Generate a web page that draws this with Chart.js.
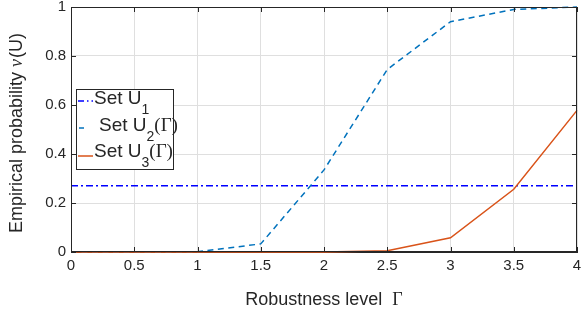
<!DOCTYPE html>
<html>
<head>
<meta charset="utf-8">
<script src="https://cdn.jsdelivr.net/npm/chart.js@4.4.1/dist/chart.umd.min.js"></script>
<style>
  html, body { margin: 0; padding: 0; background: #fff; }
  #wrap { width: 581px; height: 313px; }
</style>
</head>
<body>
<div id="wrap"><canvas id="chart"></canvas></div>
<script>
// robustness levels (x) and the three empirical probability curves
const gammas = [0, 0.5, 1, 1.5, 2, 2.5, 3, 3.5, 4];
const setU1 = [0.27, 0.27, 0.27, 0.27, 0.27, 0.27, 0.27, 0.27, 0.27];
const setU2 = [0, 0, 0.001, 0.033, 0.335, 0.745, 0.94, 0.99, 1.0];
const setU3 = [0, 0, 0, 0, 0, 0.005, 0.058, 0.256, 0.578];
const legendNames = ['1', '2', '3'];

const sans = '"Liberation Sans", Arial, Helvetica, sans-serif';
const serif = '"Liberation Serif", "Times New Roman", serif';
const ink = '#262626';
const colU1 = 'rgb(0,0,255)';
const colU2 = 'rgb(0,114,189)';
const colU3 = 'rgb(217,83,25)';

function pts(ys) {
  return gammas.map((g, i) => ({ x: g, y: ys[i] }));
}

// frame, inward ticks, legend and axis titles in MATLAB style
const matlabLook = {
  id: 'matlabLook',
  afterDraw(chart) {
    const ctx = chart.ctx;
    const a = chart.chartArea;
    const xs = chart.scales.x, ys = chart.scales.y;
    ctx.save();
    ctx.strokeStyle = ink;
    ctx.lineWidth = 1;
    ctx.strokeRect(a.left + 0.5, a.top + 0.5, a.right - a.left - 1, a.bottom - a.top - 1);
    ctx.beginPath();
    xs.ticks.forEach(t => {
      const px = Math.round(xs.getPixelForValue(t.value)) + 0.5;
      ctx.moveTo(px, a.top); ctx.lineTo(px, a.top + 5);
      ctx.moveTo(px, a.bottom); ctx.lineTo(px, a.bottom - 5);
    });
    ys.ticks.forEach(t => {
      const py = Math.round(ys.getPixelForValue(t.value)) + 0.5;
      ctx.moveTo(a.right, py); ctx.lineTo(a.right - 5, py);
      ctx.moveTo(a.left, py); ctx.lineTo(a.left + 5, py);
    });
    ctx.stroke();

    // legend box
    ctx.fillStyle = '#fff';
    ctx.fillRect(76, 89, 98, 80);
    ctx.strokeStyle = ink;
    ctx.strokeRect(76.5, 89.5, 97, 80);

    ctx.lineWidth = 1.5;
    ctx.strokeStyle = colU1;
    ctx.setLineDash([6, 3, 1.5, 3]);
    ctx.beginPath(); ctx.moveTo(78, 101); ctx.lineTo(93, 101); ctx.stroke();
    ctx.strokeStyle = colU2;
    ctx.setLineDash([6, 4]);
    ctx.beginPath(); ctx.moveTo(79, 128); ctx.lineTo(84, 128); ctx.stroke();
    ctx.strokeStyle = colU3;
    ctx.setLineDash([]);
    ctx.beginPath(); ctx.moveTo(78, 156); ctx.lineTo(93, 156); ctx.stroke();

    ctx.fillStyle = ink;
    ctx.textBaseline = 'alphabetic';
    ctx.textAlign = 'left';
    const rows = [
      { x: 94, base: 104, gamma: false },
      { x: 99, base: 131, gamma: true },
      { x: 94, base: 157, gamma: true }
    ];
    rows.forEach((r, i) => {
      ctx.font = '19px ' + sans;
      ctx.fillText('Set U', r.x, r.base);
      let cx = r.x + ctx.measureText('Set U').width;
      ctx.font = '14px ' + sans;
      ctx.fillText(legendNames[i], cx, r.base + 10);
      cx += ctx.measureText(legendNames[i]).width;
      if (r.gamma) {
        ctx.font = '19px ' + serif;
        ctx.fillText('(\u0393)', cx, r.base);
      }
    });

    // x title
    ctx.font = '18px ' + sans;
    const xt = 'Robustness level  ';
    const xw = ctx.measureText(xt).width;
    ctx.font = '18px ' + serif;
    const gw = ctx.measureText('\u0393').width;
    let sx = (a.left + a.right) / 2 - (xw + gw) / 2;
    ctx.font = '18px ' + sans;
    ctx.fillText(xt, sx, 305);
    ctx.font = '18px ' + serif;
    ctx.fillText('\u0393', sx + xw, 305);

    // y title, rotated
    ctx.translate(22, (a.top + a.bottom) / 2 + 4);
    ctx.rotate(-Math.PI / 2);
    ctx.font = '18px ' + sans;
    const p1 = 'Empirical probability ', p3 = '(U)';
    const w1 = ctx.measureText(p1).width, w3 = ctx.measureText(p3).width;
    ctx.font = 'italic 18px ' + serif;
    const w2 = ctx.measureText('\u03BD').width;
    let ty = -(w1 + w2 + w3) / 2;
    ctx.font = '18px ' + sans;
    ctx.fillText(p1, ty, 0);
    ctx.font = 'italic 18px ' + serif;
    ctx.fillText('\u03BD', ty + w1, 0);
    ctx.font = '18px ' + sans;
    ctx.fillText(p3, ty + w1 + w2 + 1, 0);
    ctx.restore();
  }
};

const plainTick = v => String(Math.round(v * 10) / 10);

new Chart(document.getElementById('chart'), {
  type: 'line',
  data: {
    datasets: [
      {
        label: 'Set U1',
        data: pts(setU1),
        borderColor: colU1,
        borderWidth: 1.5,
        borderDash: [7, 3, 2, 3],
        pointRadius: 0,
        clip: 4,
        order: 3
      },
      {
        label: 'Set U2',
        data: pts(setU2),
        borderColor: colU2,
        borderWidth: 1.5,
        borderDash: [6, 4.5],
        pointRadius: 0,
        clip: 4,
        order: 2
      },
      {
        label: 'Set U3',
        data: pts(setU3),
        borderColor: colU3,
        borderWidth: 1.5,
        pointRadius: 0,
        clip: 4,
        order: 1
      }
    ]
  },
  options: {
    responsive: true,
    maintainAspectRatio: false,
    animation: false,
    layout: { padding: { left: 0, top: 7, right: 4, bottom: 0 } },
    plugins: { legend: { display: false }, tooltip: { enabled: false } },
    elements: { line: { tension: 0, fill: false } },
    scales: {
      x: {
        type: 'linear',
        min: 0,
        max: 4,
        ticks: { stepSize: 0.5, color: ink, padding: 5, font: { family: sans, size: 15 }, maxRotation: 0, callback: plainTick },
        grid: { color: '#dfdfdf', drawTicks: false },
        border: { color: ink },
        afterFit(scale) {
          scale.height = 61;
          scale.paddingLeft = 0;
          scale.paddingRight = 0;
        }
      },
      y: {
        min: 0,
        max: 1,
        ticks: { stepSize: 0.2, color: ink, padding: 5, font: { family: sans, size: 15 }, callback: plainTick },
        grid: { color: '#dfdfdf', drawTicks: false },
        border: { color: ink },
        afterFit(scale) {
          scale.width = 71;
          scale.paddingTop = 0;
          scale.paddingBottom = 0;
        }
      }
    }
  },
  plugins: [matlabLook]
});
</script>
</body>
</html>
